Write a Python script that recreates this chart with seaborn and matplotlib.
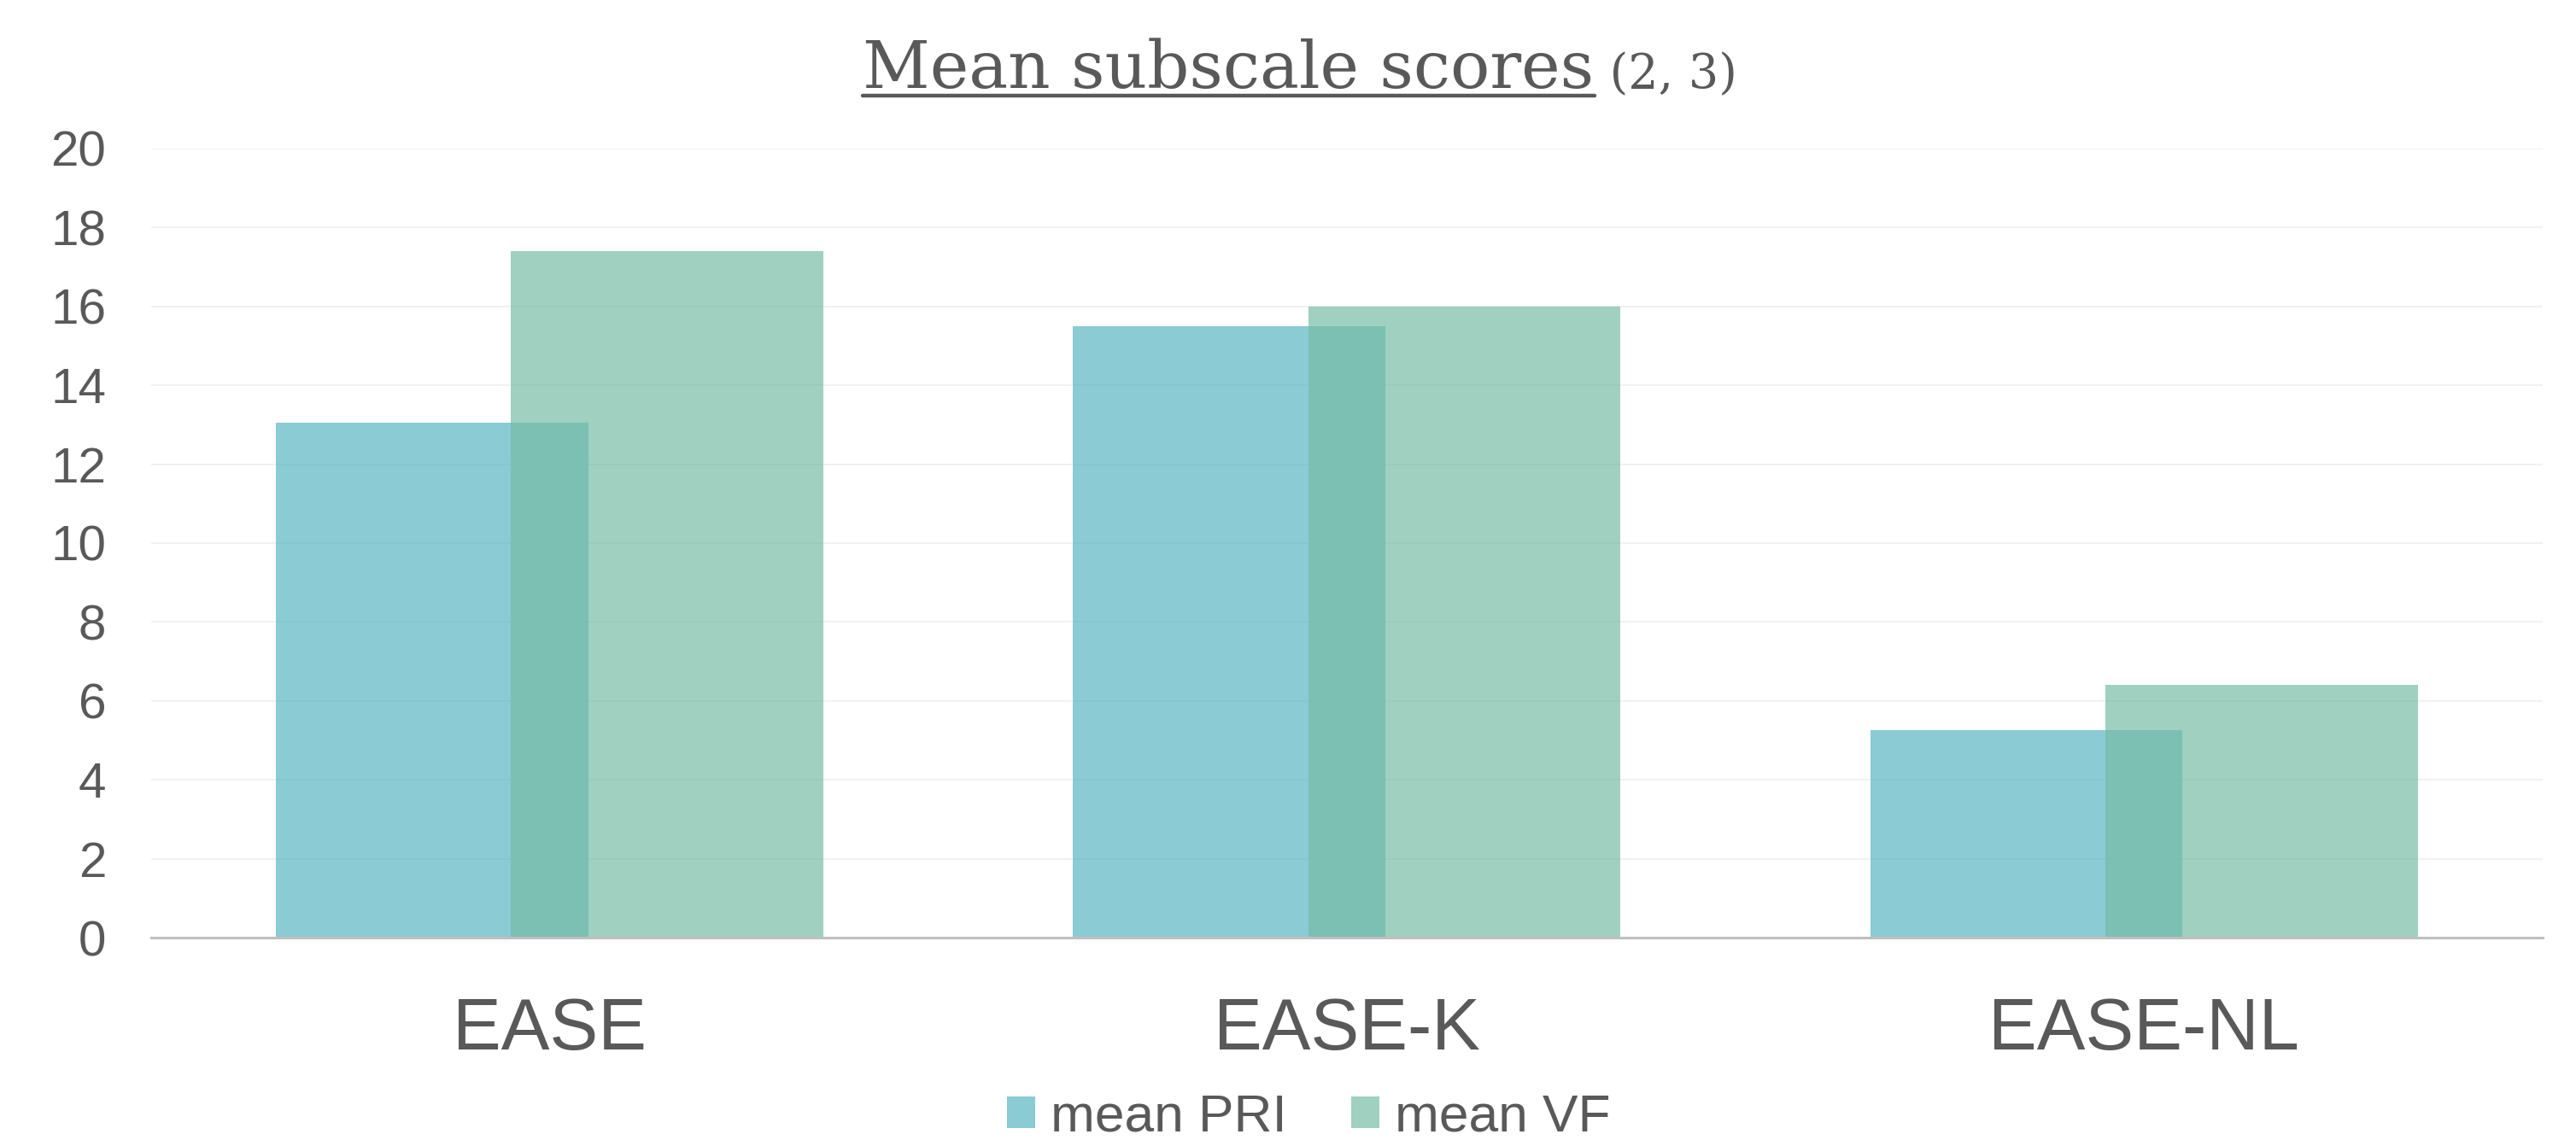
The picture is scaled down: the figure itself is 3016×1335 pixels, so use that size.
import pandas as pd
import seaborn as sns
import matplotlib.pyplot as plt

# values
categories = ["EASE", "EASE-K", "EASE-NL"]
mean_pri = [13.05, 15.5, 5.25]
mean_vf = [17.4, 16.0, 6.4]
series_names = ["mean PRI", "mean VF"]
y_ticks = list(range(0, 21, 2))

df = pd.DataFrame({
    "scale": categories * 2,
    "series": [series_names[0]] * 3 + [series_names[1]] * 3,
    "score": mean_pri + mean_vf,
})

sns.set_theme(style="white")
plt.rcParams["font.family"] = ["Liberation Sans", "DejaVu Sans"]

text_col = "#595959"
palette = {"mean PRI": "#58B6C3", "mean VF": "#76BCA6"}

fig = plt.figure(figsize=(15.08, 6.675), dpi=200)
ax = fig.add_axes([0.0587, 0.1775, 0.9283, 0.6922])

sns.barplot(data=df, x="scale", y="score", hue="series", order=categories,
            hue_order=series_names, palette=palette, width=0.59, gap=-0.3288,
            alpha=0.7, linewidth=0, saturation=1, legend=False, ax=ax)

ax.set_ylim(0, 20)
ax.set_yticks(y_ticks)
ax.set_xlim(-0.5, 2.5)
ax.set_xlabel("")
ax.set_ylabel("")
ax.set_axisbelow(True)
ax.yaxis.grid(True, color="#EFEFEF", linewidth=0.6)
for s in ["top", "right", "left"]:
    ax.spines[s].set_visible(False)
ax.spines["bottom"].set_color("#BFBFBF")
ax.spines["bottom"].set_linewidth(1.1)
ax.tick_params(axis="y", length=0, pad=19, labelsize=21, labelcolor=text_col)
ax.tick_params(axis="x", length=0, pad=25, labelsize=30.6, labelcolor=text_col)

# legend below the plot
handles = [plt.Rectangle((0, 0), 1, 1, color=palette[n], alpha=0.7, linewidth=0) for n in series_names]
fig.legend(handles, series_names, loc="center", bbox_to_anchor=(0.508, 0.0195), ncol=2,
           frameon=False, fontsize=22.4, labelcolor=text_col, handlelength=0.53,
           handleheight=0.53, handletextpad=0.3, columnspacing=1.2, borderpad=0)

# title: underlined main part + smaller note
fig.canvas.draw()
renderer = fig.canvas.get_renderer()
title_y = 1 - 103 / 1335
t1 = fig.text(0, title_y, "Mean subscale scores", fontfamily="DejaVu Serif", fontsize=27.7,
              color=text_col, ha="left", va="baseline")
t2 = fig.text(0, title_y, " (2, 3)", fontfamily="DejaVu Serif", fontsize=20,
              color=text_col, ha="left", va="baseline")
b1 = t1.get_window_extent(renderer)
b2 = t2.get_window_extent(renderer)
W = fig.bbox.width
total = b1.width + b2.width
x0 = 1522 / 3016 - total / W / 2
t1.set_x(x0)
t2.set_x(x0 + b1.width / W)
uy = 1 - 112 / 1335
fig.add_artist(plt.Line2D([x0, x0 + b1.width / W], [uy, uy], transform=fig.transFigure,
                          color=text_col, linewidth=1.6))

fig.savefig("out.png", dpi=200)
